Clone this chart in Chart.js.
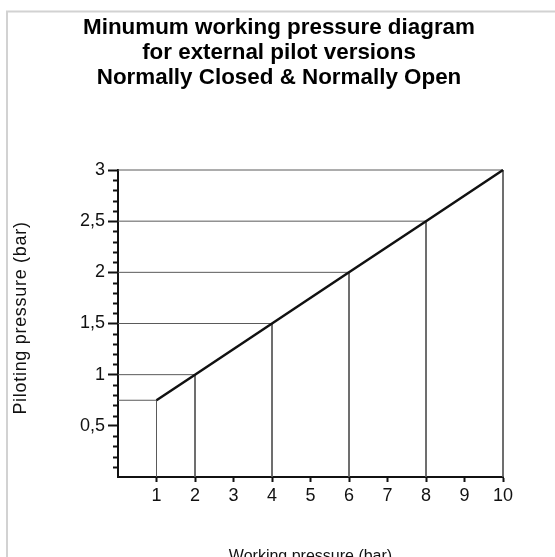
<!DOCTYPE html>
<html>
<head>
<meta charset="utf-8">
<script src="https://cdn.jsdelivr.net/npm/chart.js@4/dist/chart.umd.min.js"></script>
<style>
  html, body { margin: 0; padding: 0; background: #fff; }
  #contenedor { position: relative; width: 555px; height: 557px; }
</style>
</head>
<body>
<div id="contenedor">
  <canvas id="grafica" width="555" height="557"></canvas>
</div>
<script>
// Puntos de la curva: presión de trabajo (bar) vs presión de pilotaje mínima (bar)
const presionTrabajo = [1, 2, 4, 6, 8, 10];
const presionPilotaje = [0.75, 1, 1.5, 2, 2.5, 3];

const titulo = [
  "Minumum working pressure diagram",
  "for external pilot versions",
  "Normally Closed & Normally Open"
];
const tituloX = "Working pressure (bar)";
const tituloY = "Piloting pressure (bar)";

const fuente = "'Liberation Sans', Arial, Helvetica, sans-serif";

// Curva principal
const curva = presionTrabajo.map((w, i) => ({ x: w, y: presionPilotaje[i] }));

// Líneas guía desde cada eje hasta la curva
const guias = presionTrabajo.map((w, i) => ({
  data: [
    { x: 0, y: presionPilotaje[i] },
    { x: w, y: presionPilotaje[i] },
    { x: w, y: 0 }
  ],
  borderColor: "#5a5a5a",
  borderWidth: 1,
  pointRadius: 0,
  showLine: true,
  clip: false
}));

// Marco gris, título, rótulo del eje Y y marcas menores
const extras = {
  id: "extras",
  beforeDraw(chart) {
    const c = chart.ctx;
    c.save();
    c.fillStyle = "#fff";
    c.fillRect(0, 0, chart.width, chart.height);
    c.strokeStyle = "#d2d2d2";
    c.lineWidth = 2;
    c.strokeRect(7, 11.5, 700, 700);
    c.restore();
  },
  afterDraw(chart) {
    const c = chart.ctx;
    c.save();
    c.fillStyle = "#000";
    c.font = "bold 22.4px " + fuente;
    c.textAlign = "center";
    c.textBaseline = "alphabetic";
    titulo.forEach((t, i) => c.fillText(t, 279, 34 + i * 25));
    c.restore();

    // rótulo vertical
    c.save();
    c.fillStyle = "#111";
    c.font = "18px " + fuente;
    c.letterSpacing = "0.7px";
    c.textAlign = "center";
    c.textBaseline = "middle";
    c.translate(21.5, 318);
    c.rotate(-Math.PI / 2);
    c.fillText(tituloY, 0, 0);
    c.restore();

    const y = chart.scales.y;
    c.save();
    c.strokeStyle = "#111";
    c.lineWidth = 2;
    for (let k = 1; k < 30; k++) {
      if (k % 5 === 0) continue;
      const py = Math.round(y.getPixelForValue(k / 10)) + 0.5;
      c.beginPath();
      c.moveTo(y.right - 5, py);
      c.lineTo(y.right, py);
      c.stroke();
    }
    c.restore();
  }
};

const coma = v => String(v).replace(".", ",");

const grafico = new Chart(document.getElementById("grafica"), {
  type: "scatter",
  data: {
    datasets: [
      {
        data: curva,
        borderColor: "#111",
        borderWidth: 2.5,
        pointRadius: 0,
        showLine: true,
        tension: 0,
        clip: false
      },
      ...guias
    ]
  },
  options: {
    responsive: false,
    animation: false,
    events: [],
    layout: { padding: { left: 0, top: 170, right: 52, bottom: 0 } },
    plugins: {
      legend: { display: false },
      title: { display: false },
      tooltip: { enabled: false }
    },
    scales: {
      x: {
        type: "linear",
        min: 0,
        max: 10,
        afterFit: s => { s.height = 80; },
        border: { color: "#111", width: 2 },
        grid: {
          drawOnChartArea: false,
          tickLength: 5,
          tickWidth: 2,
          tickColor: ctx => (ctx.tick && ctx.tick.value === 0 ? "rgba(0,0,0,0)" : "#111")
        },
        ticks: {
          stepSize: 1,
          autoSkip: false,
          maxRotation: 0,
          color: "#111",
          padding: 3,
          font: { family: fuente, size: 18 },
          callback: v => (v === 0 ? "" : coma(v))
        },
        title: {
          display: true,
          text: tituloX,
          color: "#111",
          font: { family: fuente, size: 16 },
          padding: { top: 0, bottom: -9 }
        }
      },
      y: {
        type: "linear",
        min: 0,
        max: 3,
        afterFit: s => { s.width = 118; },
        border: { color: "#111", width: 2 },
        grid: {
          drawOnChartArea: false,
          tickLength: 10,
          tickWidth: 2,
          tickColor: ctx => (ctx.tick && ctx.tick.value === 0 ? "rgba(0,0,0,0)" : "#111")
        },
        ticks: {
          stepSize: 0.5,
          autoSkip: false,
          color: "#111",
          padding: 3,
          font: { family: fuente, size: 18 },
          callback: v => (v === 0 ? "" : coma(v))
        }
      }
    }
  },
  plugins: [extras]
});
</script>
</body>
</html>
